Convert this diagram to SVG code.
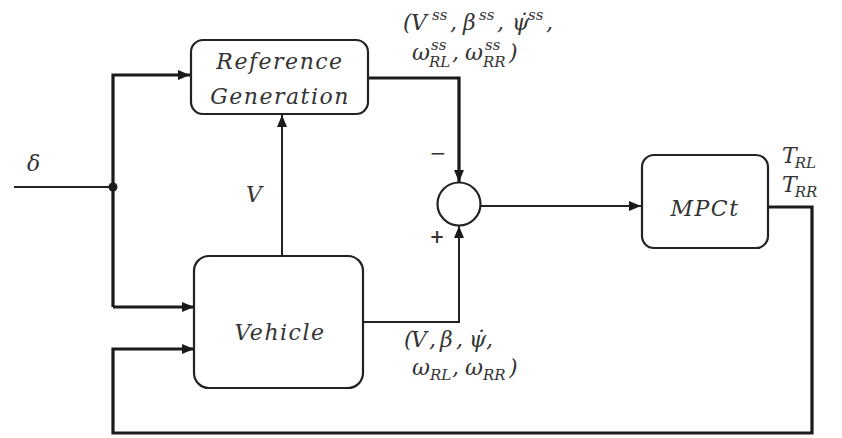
<svg xmlns="http://www.w3.org/2000/svg" width="842" height="438" viewBox="0 0 842 438">
<style>
.box{fill:#fff;stroke:#222;stroke-width:2.2}
.ln{fill:none;stroke:#222;stroke-width:2}
.thk{fill:none;stroke:#1a1a1a;stroke-width:3.2}
.t{font-family:"DejaVu Serif","Liberation Serif",serif;font-style:italic;fill:#333}
.lbl{font-size:22px;letter-spacing:1.5px}
.m{font-size:22px}
.s{font-size:15px}
.n{font-style:normal}
</style>
<defs>
<marker id="ah" viewBox="0 0 12 10" refX="12" refY="5" markerWidth="12" markerHeight="10" markerUnits="userSpaceOnUse" orient="auto">
<path d="M0,0 L12,5 L0,10 Z" fill="#1a1a1a"/>
</marker>
</defs>
<rect width="842" height="438" fill="#fff"/>
<g id="connectors">
<path class="ln" d="M14,187 H113"/>
<path class="thk" d="M113,307 V75 H190" marker-end="url(#ah)"/>
<path class="thk" d="M113,307 H194" marker-end="url(#ah)"/>
<circle cx="113" cy="187" r="4.5" fill="#1a1a1a"/>
<path class="ln" d="M282,256 V115" marker-end="url(#ah)"/>
<path class="thk" d="M368,78 H459 V182" marker-end="url(#ah)"/>
<path class="ln" d="M363,322 H459 V226" marker-end="url(#ah)"/>
<path class="ln" d="M481,206 H641" marker-end="url(#ah)"/>
<path class="thk" d="M768,207 H812 V433 H113 V349 H194" marker-end="url(#ah)"/>
</g>
<g id="refgen">
<rect class="box" x="191" y="40" width="177" height="74" rx="12"/>
<text class="t lbl" x="280" y="69" text-anchor="middle">Reference</text>
<text class="t lbl" x="280" y="104" text-anchor="middle">Generation</text>
</g>
<g id="vehicle">
<rect class="box" x="194" y="256" width="169" height="132" rx="15"/>
<text class="t lbl" x="280" y="340" text-anchor="middle">Vehicle</text>
</g>
<g id="sum">
<circle cx="459" cy="204" r="21.5" fill="#fff" stroke="#222" stroke-width="2.2"/>
<text class="t n" x="438" y="160" font-size="20" text-anchor="middle">−</text>
<text class="t n" x="437" y="243" font-size="18" font-weight="bold" text-anchor="middle">+</text>
</g>
<g id="mpct">
<rect class="box" x="642" y="155" width="126" height="93" rx="12"/>
<text class="t lbl" x="705" y="216" text-anchor="middle">MPCt</text>
</g>
<g id="labels">
<text class="t m" x="27" y="171">δ</text>
<text class="t m" x="246" y="202">V</text>
<text class="t m" y="30"><tspan x="403">(</tspan><tspan x="411">V</tspan><tspan class="s" x="432" y="20">ss</tspan><tspan x="450" y="30">,</tspan><tspan x="463">β</tspan><tspan class="s" x="479" y="20">ss</tspan><tspan x="497" y="30">,</tspan><tspan x="512">ψ̇</tspan><tspan class="s" x="528" y="20">ss</tspan><tspan x="546" y="30">,</tspan></text>
<text class="t m" y="60"><tspan x="412">ω</tspan><tspan class="s" x="431" y="50">ss</tspan><tspan class="s" x="429" y="67">RL</tspan><tspan x="452" y="60">,</tspan><tspan x="465">ω</tspan><tspan class="s" x="485" y="50">ss</tspan><tspan class="s" x="483" y="67">RR</tspan><tspan x="509" y="60">)</tspan></text>
<text class="t m" y="347"><tspan x="404">(</tspan><tspan x="411">V</tspan><tspan x="429">,</tspan><tspan x="440">β</tspan><tspan x="456">,</tspan><tspan x="469">ψ̇</tspan><tspan x="486">,</tspan></text>
<text class="t m" y="375"><tspan x="412">ω</tspan><tspan class="s" x="430" y="380">RL</tspan><tspan x="452" y="375">,</tspan><tspan x="465">ω</tspan><tspan class="s" x="483" y="380">RR</tspan><tspan x="509" y="375">)</tspan></text>
<text class="t m" x="782" y="163">T<tspan class="s" dx="-2" dy="5">RL</tspan></text>
<text class="t m" x="782" y="192">T<tspan class="s" dx="-2" dy="5">RR</tspan></text>
</g>
</svg>
